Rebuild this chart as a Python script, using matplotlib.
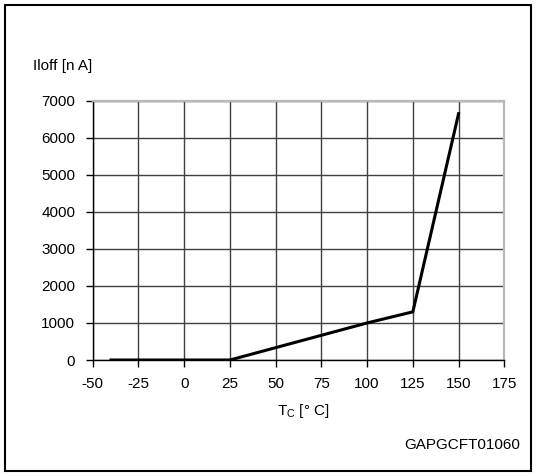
import matplotlib
matplotlib.use("Agg")
import matplotlib.pyplot as plt
from matplotlib.patches import Rectangle

temps = [-40, 25, 100, 125, 150]
iloff = [0, 0, 1000, 1300, 6650]
xticks = [-50, -25, 0, 25, 50, 75, 100, 125, 150, 175]
yticks = [0, 1000, 2000, 3000, 4000, 5000, 6000, 7000]

plt.rcParams['font.family'] = ['Liberation Sans', 'DejaVu Sans']
plt.rcParams['mathtext.fontset'] = 'custom'
plt.rcParams['mathtext.rm'] = 'Liberation Sans'

W, H = 537, 476
fig = plt.figure(figsize=(W/100, H/100), dpi=100)
fig.patches.append(Rectangle((5/W, 1-471/H), 526/W, 466/H, transform=fig.transFigure,
                             fill=False, edgecolor='black', linewidth=1.5))

ax = fig.add_axes([92.7/W, 1-360/H, 411.6/W, 259.3/H])
ax.plot(temps, iloff, color='black', linewidth=2.2, solid_joinstyle='miter', zorder=3)
ax.set_xlim(-50, 175)
ax.set_ylim(0, 7000)
ax.set_xticks(xticks)
ax.set_yticks(yticks)
ax.set_xticklabels([str(t) for t in xticks])
ax.set_yticklabels([str(t) for t in yticks])
ax.grid(True, color='#404040', linewidth=1.0)
for s in ['top', 'right']:
    ax.spines[s].set_color('#b8b8b8')
    ax.spines[s].set_linewidth(1.6)
for s in ['left', 'bottom']:
    ax.spines[s].set_color('black')
    ax.spines[s].set_linewidth(1.0)
ax.tick_params(direction='out', length=5, width=1, labelsize=11)
ax.tick_params(axis='x', pad=7.5)
ax.tick_params(axis='y', pad=7.5)

fig.text(33/W, 1-66/H, 'Iloff [n A]', fontsize=11, ha='left', va='center')
fig.text(303/W, 1-411/H, r'T$_\mathregular{C}$ [° C]', fontsize=11, ha='center', va='center')
fig.text(520/W, 1-445/H, 'GAPGCFT01060', fontsize=11, ha='right', va='center')

fig.savefig('out.png', dpi=100)
